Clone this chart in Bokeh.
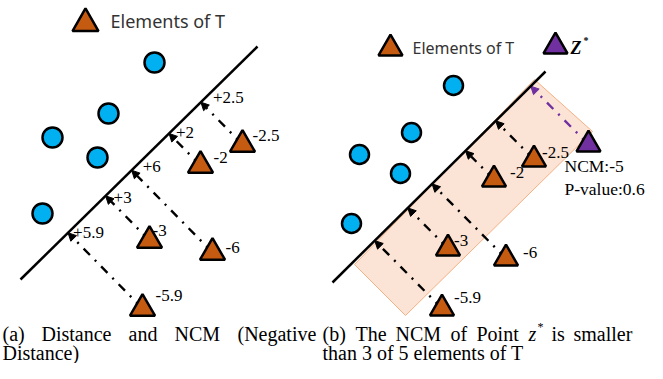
import numpy as np
from bokeh.plotting import figure
from bokeh.models import Range1d, ColumnDataSource, Arrow, NormalHead
from bokeh.core.properties import value
from bokeh.embed import file_html
from bokeh.resources import INLINE

# ---------------- data ----------------
# panel (a)
circles_a_x = [154, 108, 52, 97, 42]
circles_a_y = [62, 113, 137, 157, 213]
sep_a_x = [20, 257]
sep_a_y = [279, 46]
tri_a_x = [242, 200, 149, 212, 142]
tri_a_y = [144, 165, 240, 252, 308]
ncm_values = [-2.5, -2, -3, -6, -5.9]
ncm_labels = ["-2.5", "-2", "-3", "-6", "-5.9"]
dist_labels = ["+" + s[1:] for s in ncm_labels]

# panel (b)
circles_b_x = [453, 411, 359, 400, 351]
circles_b_y = [85, 132, 154, 173, 223]
sep_b_x = [332, 545]
sep_b_y = [282, 71]
tri_b_x = [533.5, 493.5, 447.5, 505.5, 441.5]
tri_b_y = [159, 179, 248, 258, 308]
zstar_x = [588]
zstar_y = [144]
zstar_ncm = -5
band_x = [534, 592, 405, 354]
band_y = [79, 131, 315, 264]

legend_label = "Elements of T"
caption_a1 = ["(a)", "Distance", "and", "NCM", "(Negative"]
caption_a2 = "Distance)"
caption_b1 = ["(b)", "The", "NCM", "of", "Point", "z", "is", "smaller"]
caption_b2 = "than 3 of 5 elements of T"

# label offsets (layout)
ncm_dx_a = [10, 13, 3, 13, 13]
ncm_dy_a = [-9, -8, -10, -5, -13]
dist_dx_a = [12, 7, 8, 11, 5]
dist_dy_a = [-5, -1, 2, -4, 0]
ncm_dx_b = [8, 16, 6, 17, 12]
ncm_dy_b = [-7, -7, -8, -6, -11]
cap_a1_x = [2, 41, 128, 174, 237]
cap_b1_x = [322, 355, 395, 450, 476, 528, 551, 573]

# colours
BLUE = "#00B0F0"
BROWN = "#C55A11"
PURPLE = "#7030A0"
BAND_FILL = "#FBE3D5"
BAND_LINE = "#F4B183"
SERIF = value("Liberation Serif")
SANS = value("Noto Sans")

W, H = 647, 363


def project(px, py, lx, ly):
    px = np.asarray(px, float)
    py = np.asarray(py, float)
    x0, y0 = lx[0], ly[0]
    dx, dy = lx[1] - x0, ly[1] - y0
    t = ((px - x0) * dx + (py - y0) * dy) / (dx * dx + dy * dy)
    return x0 + t * dx, y0 + t * dy


p = figure(width=W, height=H, x_range=Range1d(0, W), y_range=Range1d(H, 0),
           output_backend="svg", toolbar_location=None, min_border=0,
           x_axis_location=None, y_axis_location=None)
p.grid.visible = False
p.outline_line_color = None
p.background_fill_color = "white"

# band in panel (b)
band = p.patch(band_x, band_y, fill_color=BAND_FILL, line_color=BAND_LINE, line_width=1)
band.level = "image"


def add_arrows(tx, ty, lx, ly, color):
    fx, fy = project(tx, ty, lx, ly)
    src = ColumnDataSource(dict(xs=list(tx), ys=list(ty), xe=list(fx), ye=list(fy)))
    arr = Arrow(end=NormalHead(size=8, fill_color=color, line_color=color, line_width=1),
                source=src, x_start="xs", y_start="ys", x_end="xe", y_end="ye",
                line_color=color, line_width=2.4, line_dash="9 7 2 7", level="underlay")
    p.add_layout(arr)
    return fx, fy


fa_x, fa_y = add_arrows(tri_a_x, tri_a_y, sep_a_x, sep_a_y, "black")
add_arrows(tri_b_x, tri_b_y, sep_b_x, sep_b_y, "black")
add_arrows(zstar_x, zstar_y, sep_b_x, sep_b_y, PURPLE)

# separating lines
p.line(sep_a_x, sep_a_y, line_color="black", line_width=2.5)
p.line(sep_b_x, sep_b_y, line_color="black", line_width=2.5)

# circles
p.scatter(circles_a_x, circles_a_y, marker="circle", size=20, fill_color=BLUE,
          line_color="black", line_width=2.5)
p.scatter(circles_b_x, circles_b_y, marker="circle", size=19, fill_color=BLUE,
          line_color="black", line_width=2.5)

# triangles (elements of T)
p.scatter(tri_a_x, tri_a_y, marker="triangle", size=25, fill_color=BROWN,
          line_color="black", line_width=2.5)
p.scatter(tri_b_x, tri_b_y, marker="triangle", size=24, fill_color=BROWN,
          line_color="black", line_width=2.5)
p.scatter(zstar_x, zstar_y, marker="triangle", size=24, fill_color=PURPLE,
          line_color="black", line_width=2.5)

# legends
p.scatter([85], [23], marker="triangle", size=26, fill_color=BROWN, line_color="black", line_width=2.5)
p.text([110], [20], text=[legend_label], text_font=SANS, text_font_size="18px",
       text_baseline="middle", text_color="#333333")
p.scatter([390], [48], marker="triangle", size=24, fill_color=BROWN, line_color="black", line_width=2.5)
p.text([412], [47], text=[legend_label], text_font=SANS, text_font_size="16px",
       text_baseline="middle", text_color="#333333")
p.scatter([555], [46], marker="triangle", size=24, fill_color=PURPLE, line_color="black", line_width=2.5)
p.text([570], [47], text=["Z"], text_font=SERIF, text_font_size="18px", text_font_style="bold italic",
       text_baseline="middle", text_color="black")
p.text([583], [40], text=["*"], text_font=SERIF, text_font_size="10px", text_font_style="bold",
       text_baseline="middle", text_color="black")

# NCM labels
p.text([x + d for x, d in zip(tri_a_x, ncm_dx_a)], [y + d for y, d in zip(tri_a_y, ncm_dy_a)],
       text=ncm_labels, text_font=SERIF, text_font_size="17px", text_baseline="middle", text_color="black")
p.text([x + d for x, d in zip(fa_x, dist_dx_a)], [y + d for y, d in zip(fa_y, dist_dy_a)],
       text=dist_labels, text_font=SERIF, text_font_size="17px", text_baseline="middle", text_color="black")
p.text([x + d for x, d in zip(tri_b_x, ncm_dx_b)], [y + d for y, d in zip(tri_b_y, ncm_dy_b)],
       text=ncm_labels, text_font=SERIF, text_font_size="17px", text_baseline="middle", text_color="black")

# z* annotation
pval = sum(1 for v in ncm_values if v > zstar_ncm) / len(ncm_values)
p.text([564, 564], [165, 188], text=["NCM:%g" % zstar_ncm, "P-value:%g" % pval],
       text_font=SERIF, text_font_size="17.5px", text_baseline="middle", text_color="black")

# captions
CAP1_Y = 333
CAP2_Y = 352
CAP_FS = "20px"
p.text(cap_a1_x, [CAP1_Y] * len(caption_a1), text=caption_a1, text_font=SERIF, text_font_size=CAP_FS,
       text_baseline="middle", text_color="black")
p.text([2], [CAP2_Y], text=[caption_a2], text_font=SERIF, text_font_size=CAP_FS,
       text_baseline="middle", text_color="black")
b_styles = ["italic" if w == "z" else "normal" for w in caption_b1]
p.text(cap_b1_x, [CAP1_Y] * len(caption_b1), text=caption_b1, text_font=SERIF, text_font_size=CAP_FS,
       text_font_style=b_styles, text_baseline="middle", text_color="black")
p.text([537], [CAP1_Y - 7], text=["*"], text_font=SERIF, text_font_size="12px",
       text_baseline="middle", text_color="black")
p.text([322], [CAP2_Y], text=[caption_b2], text_font=SERIF, text_font_size=CAP_FS,
       text_baseline="middle", text_color="black")

open("out.html", "w").write(file_html(p, INLINE))
